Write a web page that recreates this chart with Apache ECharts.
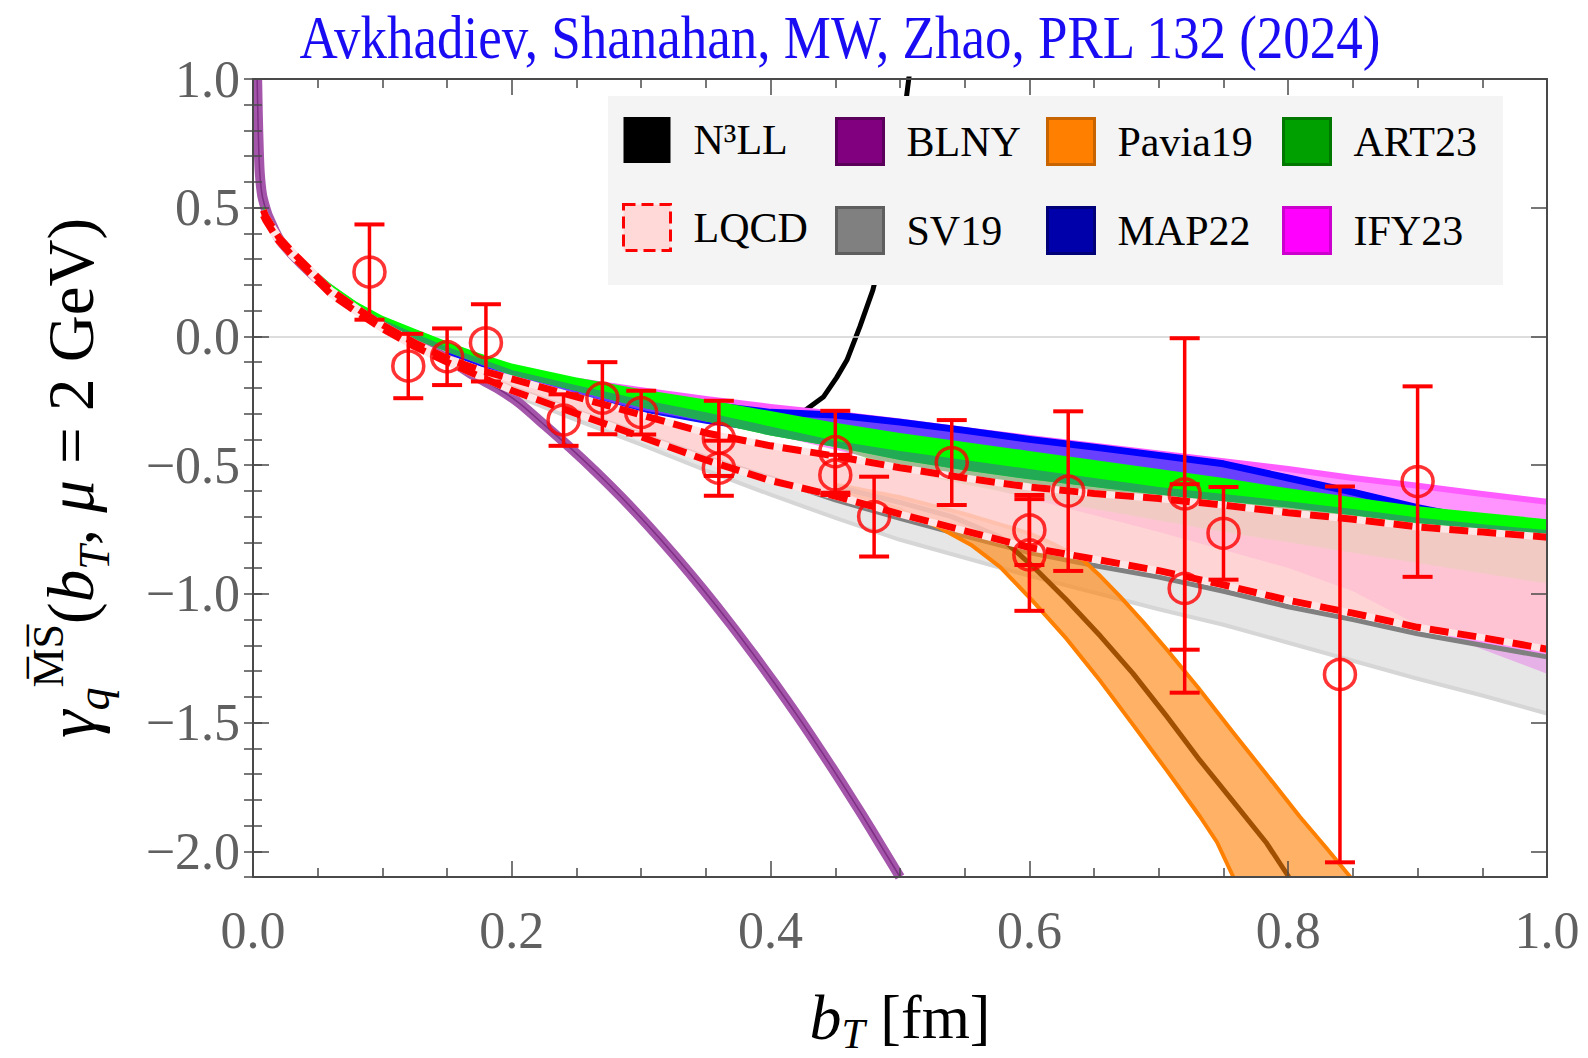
<!DOCTYPE html>
<html><head><meta charset="utf-8">
<script src="https://cdn.jsdelivr.net/npm/echarts@6/dist/echarts.min.js"></script>
<style>html,body{margin:0;padding:0;background:#fff}#c{width:1588px;height:1058px}</style>
</head><body><div id="c"></div>
<script>
// ---------- data ----------
const titleText = 'Avkhadiev, Shanahan, MW, Zhao, PRL 132 (2024)';
const yMajorTicks = [-2.0,-1.5,-1.0,-0.5,0.0,0.5,1.0];
const yMinorTicks = [-2.1,-2.0,-1.9,-1.8,-1.7,-1.6,-1.5,-1.4,-1.3,-1.2,-1.1,-1.0,-0.9,-0.8,-0.7,-0.6,-0.5,-0.4,-0.3,-0.2,-0.1,0.0,0.1,0.2,0.3,0.4,0.5,0.6,0.7,0.8,0.9,1.0];

const gridX     = [0.008,0.01,0.02,0.03,0.045,0.06,0.08,0.1,0.125,0.15,0.175,0.2,0.25,0.3,0.35,0.4,0.45,0.5,0.55,0.6,0.65,0.7,0.75,0.8,0.85,0.9,0.95,1.0];
const lqcdUpper = [0.49,0.465,0.385,0.33,0.255,0.18,0.11,0.045,-0.025,-0.085,-0.13,-0.165,-0.235,-0.305,-0.375,-0.425,-0.465,-0.51,-0.55,-0.585,-0.61,-0.63,-0.655,-0.685,-0.71,-0.74,-0.76,-0.78];
const lqcdLower = [0.47,0.45,0.37,0.315,0.24,0.165,0.095,0.03,-0.04,-0.1,-0.155,-0.21,-0.3,-0.39,-0.48,-0.56,-0.62,-0.69,-0.755,-0.82,-0.865,-0.91,-0.965,-1.025,-1.075,-1.13,-1.17,-1.215];
const artUpper  = [0.51,0.48,0.405,0.345,0.27,0.205,0.135,0.08,0.03,-0.02,-0.065,-0.105,-0.16,-0.205,-0.245,-0.29,-0.335,-0.375,-0.41,-0.445,-0.48,-0.515,-0.55,-0.59,-0.625,-0.66,-0.685,-0.71];
const artMid    = [0.495,0.467,0.393,0.333,0.258,0.19,0.122,0.066,0.012,-0.04,-0.085,-0.13,-0.19,-0.245,-0.295,-0.35,-0.405,-0.445,-0.48,-0.515,-0.55,-0.585,-0.612,-0.64,-0.67,-0.703,-0.73,-0.752];
const artLower  = [0.48,0.455,0.38,0.32,0.245,0.175,0.11,0.05,-0.01,-0.06,-0.105,-0.15,-0.2125,-0.275,-0.33,-0.385,-0.43,-0.48,-0.52,-0.555,-0.585,-0.615,-0.64,-0.665,-0.695,-0.725,-0.75,-0.775];
const svLine    = [0.475,0.455,0.375,0.32,0.245,0.17,0.1,0.035,-0.035,-0.095,-0.15,-0.2,-0.29,-0.38,-0.47,-0.55,-0.635,-0.707,-0.775,-0.84,-0.89,-0.935,-0.99,-1.05,-1.1,-1.155,-1.2,-1.245];
const svLower   = [0.47,0.45,0.37,0.315,0.24,0.165,0.095,0.03,-0.04,-0.1,-0.16,-0.225,-0.325,-0.42,-0.52,-0.615,-0.705,-0.79,-0.86,-0.93,-0.995,-1.06,-1.12,-1.19,-1.26,-1.33,-1.395,-1.465];

const artExtX     = [0.45,0.5,0.55,0.6,0.65,0.7,0.75,0.8,0.85,0.9,0.95,1.0];
const artExtUpper = [-0.43,-0.48,-0.52,-0.555,-0.585,-0.615,-0.64,-0.665,-0.695,-0.725,-0.75,-0.775];
const artExtLower = [-0.43,-0.52,-0.575,-0.625,-0.67,-0.715,-0.76,-0.8,-0.84,-0.88,-0.92,-0.96];

const ifyX     = [0.25,0.3,0.35,0.4,0.45,0.5,0.55,0.6,0.65,0.7,0.75,0.8,0.85,0.9,0.95,1.0];
const ifyUpper = [-0.172,-0.209,-0.243,-0.274,-0.3,-0.33,-0.363,-0.395,-0.425,-0.455,-0.485,-0.515,-0.55,-0.58,-0.612,-0.642];
const ifyLower = [-0.2,-0.26,-0.32,-0.38,-0.44,-0.5,-0.565,-0.63,-0.695,-0.76,-0.83,-0.9,-0.99,-1.12,-1.215,-1.31];

const mapX     = [0.15,0.2,0.25,0.3,0.35,0.4,0.45,0.5,0.55,0.6,0.65,0.7,0.75,0.8,0.85,0.9,0.95,1.0];
const mapUpper = [-0.045,-0.13,-0.18,-0.228,-0.265,-0.295,-0.305,-0.333,-0.365,-0.40,-0.43,-0.462,-0.495,-0.55,-0.605,-0.665,-0.715,-0.76];
const mapLower = [-0.065,-0.16,-0.225,-0.29,-0.335,-0.37,-0.39,-0.42,-0.45,-0.48,-0.51,-0.54,-0.57,-0.60,-0.635,-0.675,-0.72,-0.765];

const paviaUpX  = [0.45,0.5,0.55,0.6,0.62,0.6417,0.655,0.67,0.688,0.706,0.73,0.7576,0.783,0.809,0.83,0.848];
const paviaUp   = [-0.575,-0.625,-0.69,-0.765,-0.81,-0.87,-0.932,-1.01,-1.11,-1.215,-1.362,-1.54,-1.70,-1.866,-1.99,-2.1];
const paviaMidX = [0.45,0.5,0.54,0.577,0.603,0.6288,0.655,0.68,0.706,0.7318,0.758,0.7834,0.8005];
const paviaMid  = [-0.583,-0.645,-0.70,-0.778,-0.895,-1.024,-1.165,-1.309,-1.475,-1.647,-1.81,-1.969,-2.1];
const paviaLowX = [0.45,0.5,0.531,0.555,0.5773,0.603,0.6288,0.655,0.6803,0.706,0.7318,0.745,0.7576];
const paviaLow  = [-0.59,-0.672,-0.744,-0.81,-0.895,-1.03,-1.175,-1.34,-1.51,-1.685,-1.865,-1.965,-2.1];

const blnyX = [0.0032,0.0038,0.0045,0.0053,0.007,0.0095,0.0115,0.02,0.03,0.045,0.06,0.08,0.1,0.125,0.15,0.17,0.19,0.206,0.225,0.245,0.265,0.284,0.305,0.327,0.348,0.369,0.387,0.404,0.422,0.44,0.455,0.47,0.485,0.5];
const blnyY = [1.0,0.85,0.72,0.63,0.55,0.50,0.47,0.38,0.32,0.245,0.18,0.11,0.05,-0.02,-0.085,-0.15,-0.205,-0.26,-0.343,-0.432,-0.526,-0.621,-0.733,-0.858,-0.984,-1.117,-1.237,-1.354,-1.483,-1.618,-1.734,-1.853,-1.976,-2.1];

const n3llX = [0.008,0.01,0.02,0.03,0.045,0.06,0.08,0.1,0.125,0.15,0.175,0.2,0.25,0.3,0.35,0.4,0.415,0.427,0.441,0.451,0.459,0.469,0.479,0.488,0.496,0.503,0.508];
const n3llY = [0.49,0.46,0.385,0.325,0.25,0.185,0.115,0.06,0.01,-0.04,-0.085,-0.125,-0.18,-0.225,-0.265,-0.30,-0.305,-0.286,-0.234,-0.16,-0.092,0.038,0.18,0.36,0.58,0.85,1.05];

const ptX   = [0.09,0.12,0.15,0.18,0.24,0.27,0.30,0.36,0.36,0.45,0.45,0.48,0.54,0.60,0.60,0.63,0.72,0.72,0.75,0.84,0.90];
const ptY   = [0.25,-0.115,-0.079,-0.025,-0.325,-0.24,-0.296,-0.396,-0.512,-0.448,-0.538,-0.70,-0.49,-0.752,-0.849,-0.601,-0.612,-0.979,-0.765,-1.313,-0.564];
const ptErr = [0.185,0.125,0.11,0.15,0.10,0.14,0.085,0.146,0.107,0.159,0.078,0.155,0.165,0.136,0.217,0.31,0.605,0.405,0.18,0.73,0.37];

// ---------- helpers ----------
const F = 'Liberation Serif';
let zc = 2;
function pairs(xs, ys){ return xs.map((x,i)=>[x, ys[i]]); }
function band(name, xu, yu, xl, yl, fill){
  return {type:'custom', name, clip:true, silent:true, z:zc++, data:[[xu[0], yu[0]]],
    renderItem(params, api){
      const pts=[];
      for(let i=0;i<xu.length;i++) pts.push(api.coord([xu[i], yu[i]]));
      for(let i=xl.length-1;i>=0;i--) pts.push(api.coord([xl[i], yl[i]]));
      return {type:'polygon', shape:{points:pts}, style:{fill:fill}};
    }};
}
function line(name, xs, ys, color, width, extra){
  return Object.assign({type:'line', name, data:pairs(xs,ys), symbol:'none', silent:true, z:zc++,
    lineStyle:{color, width, cap:'butt', join:'round'}}, extra||{});
}

const series = [];
series.push(line('N³LL', n3llX, n3llY, '#000000', 5, {
  markLine:{silent:true, symbol:'none', label:{show:false}, lineStyle:{color:'#d2d2d2', width:1.5, type:'solid'}, data:[{yAxis:0}]}
}));
series.push(band('IFY23', ifyX, ifyUpper, ifyX, ifyLower, 'rgba(255,60,255,0.55)'));
series.push(line('IFY23 edge', ifyX, ifyUpper, '#ff5cff', 6));
series.push(band('SV19', gridX, svLine, gridX, svLower, 'rgba(205,205,205,0.5)'));
series.push(line('SV19 low', gridX, svLower, '#d6d6d6', 4));
series.push(line('SV19 line', gridX, svLine, '#808080', 5));
series.push(band('Pavia19', paviaUpX, paviaUp, paviaLowX, paviaLow, 'rgba(255,135,20,0.65)'));
series.push(line('Pavia19 up', paviaUpX, paviaUp, '#ff8000', 4));
series.push(line('Pavia19 low', paviaLowX, paviaLow, '#ff8000', 4));
series.push(line('Pavia19 mid', paviaMidX, paviaMid, '#a05000', 5));
series.push(line('BLNY', blnyX, blnyY, '#a456aa', 10, {smooth:0.25}));
series.push(line('BLNY mid', blnyX, blnyY, 'rgba(110,30,115,0.7)', 1.5, {smooth:0.25}));
series.push(band('MAP22', mapX, mapUpper, mapX, mapLower, '#6a40ff'));
series.push(line('MAP22 low', mapX, mapLower, '#1010ff', 2));
series.push(line('MAP22 edge', mapX, mapUpper, '#0000ff', 7));
series.push(band('ART23 ext', artExtX, artExtUpper, artExtX, artExtLower, 'rgba(90,220,60,0.55)'));
series.push(band('ART23', gridX, artUpper, gridX, artLower, '#00ff00'));
series.push(band('ART23 dark', gridX, artMid, gridX, artLower, '#22aa55'));
series.push(band('LQCD', gridX, lqcdUpper, gridX, lqcdLower, 'rgba(255,205,205,0.85)'));
series.push(line('LQCD up base', gridX, lqcdUpper, '#ffe6e6', 7));
series.push(line('LQCD low base', gridX, lqcdLower, '#ffe6e6', 7));
series.push(line('LQCD up', gridX, lqcdUpper, '#ff0000', 7, {lineStyle:{color:'#ff0000', width:7, type:[19,9], cap:'butt'}}));
series.push(line('LQCD low', gridX, lqcdLower, '#ff0000', 7, {lineStyle:{color:'#ff0000', width:7, type:[19,9], cap:'butt'}}));
series.push({type:'custom', name:'LQCD err', silent:true, z:zc++,
  data: ptX.map((x,i)=>[x, ptY[i], ptErr[i]]), encode:{x:0, y:1},
  renderItem(params, api){
    const x=api.value(0), y=api.value(1), e=api.value(2);
    const t=api.coord([x, y+e]), b=api.coord([x, y-e]); const hw=15;
    return {type:'group', children:[
      {type:'line', shape:{x1:t[0],y1:t[1],x2:b[0],y2:b[1]}, style:{stroke:'#ff0000', lineWidth:3.5}},
      {type:'line', shape:{x1:t[0]-hw,y1:t[1],x2:t[0]+hw,y2:t[1]}, style:{stroke:'#ff0000', lineWidth:4}},
      {type:'line', shape:{x1:b[0]-hw,y1:b[1],x2:b[0]+hw,y2:b[1]}, style:{stroke:'#ff0000', lineWidth:4}}
    ]};
  }});
series.push({type:'scatter', name:'LQCD pts', silent:true, z:zc++, data:pairs(ptX, ptY), symbol:'circle', symbolSize:[31,30],
  itemStyle:{color:'rgba(255,255,255,0)', borderColor:'#ff0000', borderWidth:3.5}});

const axisLineStyle = {color:'#4a4a4a', width:2};
const tickStyle = {color:'#4a4a4a', width:1.5};
const fmt = v => (v < -1e-9 ? '\u2212' : '') + Math.abs(v).toFixed(1);

const legendCommon = {orient:'vertical', top:117, itemWidth:47, itemHeight:46, itemGap:40, padding:0, selectedMode:false, icon:'rect', z:50,
  textStyle:{fontFamily:F, fontSize:42, color:'#000', padding:[0,0,0,18]}};

const option = {
  animation:false,
  backgroundColor:'#ffffff',
  grid:{left:253, right:41, top:79, bottom:181, containLabel:false, outerBoundsMode:'none'},
  xAxis:[
    {type:'value', min:0, max:1, interval:0.2, position:'bottom', z:60,
     axisLine:{show:true, onZero:false, lineStyle:axisLineStyle},
     axisTick:{show:true, inside:true, length:16, lineStyle:tickStyle},
     minorTick:{show:true, splitNumber:4, length:9, lineStyle:tickStyle},
     splitLine:{show:false},
     axisLabel:{fontFamily:F, fontSize:52, color:'#606060', margin:27, formatter:v=>v.toFixed(1)},
     name:'{i|b}{s|T}{p| [fm]}', nameLocation:'middle', nameGap:102,
     nameTextStyle:{fontFamily:F, color:'#000', rich:{
       i:{fontFamily:F, fontStyle:'italic', fontSize:64, lineHeight:76, color:'#000'},
       s:{fontFamily:F, fontStyle:'italic', fontSize:42, lineHeight:40, verticalAlign:'bottom', color:'#000'},
       p:{fontFamily:F, fontSize:62, lineHeight:76, color:'#000'}}}},
    {type:'value', min:0, max:1, interval:0.2, position:'top', z:60,
     axisLine:{show:true, onZero:false, lineStyle:axisLineStyle},
     axisTick:{show:true, inside:true, length:16, lineStyle:tickStyle},
     minorTick:{show:true, splitNumber:4, length:9, lineStyle:tickStyle},
     splitLine:{show:false}, axisLabel:{show:false}}
  ],
  yAxis:[
    {type:'value', min:-2.1, max:1.0, position:'left', z:60,
     axisLine:{show:true, onZero:false, lineStyle:axisLineStyle},
     axisTick:{show:true, inside:true, length:16, lineStyle:tickStyle, customValues:yMajorTicks},
     splitLine:{show:false},
     axisLabel:{fontFamily:F, fontSize:52, color:'#606060', margin:13, customValues:yMajorTicks, formatter:fmt},
     name:'{g|γ}{q|q}{ms|M\u0305S\u0305}{p|(}{i|b}{s|T}{p|, }{i|μ}{p| = 2 GeV)}',
     nameLocation:'middle', nameRotate:90, nameGap:137,
     nameTextStyle:{fontFamily:F, color:'#000', rich:{
       g:{fontFamily:F, fontStyle:'italic', fontSize:70, lineHeight:90, color:'#000'},
       q:{fontFamily:F, fontStyle:'italic', fontSize:46, lineHeight:46, verticalAlign:'bottom', color:'#000'},
       ms:{fontFamily:F, fontSize:44, lineHeight:46, verticalAlign:'top', color:'#000'},
       i:{fontFamily:F, fontStyle:'italic', fontSize:65, lineHeight:90, color:'#000'},
       s:{fontFamily:F, fontStyle:'italic', fontSize:44, lineHeight:44, verticalAlign:'bottom', color:'#000'},
       p:{fontFamily:F, fontSize:65, lineHeight:90, color:'#000'}}}},
    {type:'value', min:-2.1, max:1.0, position:'left', z:60,
     axisLine:{show:false}, splitLine:{show:false}, axisLabel:{show:false},
     axisTick:{show:true, inside:true, length:9, lineStyle:tickStyle, customValues:yMinorTicks}},
    {type:'value', min:-2.1, max:1.0, position:'right', z:60,
     axisLine:{show:true, onZero:false, lineStyle:axisLineStyle}, splitLine:{show:false}, axisLabel:{show:false},
     axisTick:{show:true, inside:true, length:16, lineStyle:tickStyle, customValues:yMajorTicks}},
    {type:'value', min:-2.1, max:1.0, position:'right', z:60,
     axisLine:{show:false}, splitLine:{show:false}, axisLabel:{show:false},
     axisTick:{show:true, inside:true, length:9, lineStyle:tickStyle, customValues:yMinorTicks}}
  ],
  legend:[
    Object.assign({}, legendCommon, {left:622, data:[
      {name:'N³LL', icon:'rect', itemStyle:{color:'#000000', borderWidth:0}},
      {name:'LQCD', icon:'rect', itemStyle:{color:'#ffd8d8', borderColor:'#ff0000', borderWidth:3, borderType:'dashed'}}]}),
    Object.assign({}, legendCommon, {left:835, data:[
      {name:'BLNY', icon:'rect', itemStyle:{color:'#800080', borderColor:'#5a005a', borderWidth:3}},
      {name:'SV19', icon:'rect', itemStyle:{color:'#808080', borderColor:'#5e5e5e', borderWidth:3}}]}),
    Object.assign({}, legendCommon, {left:1046, data:[
      {name:'Pavia19', icon:'rect', itemStyle:{color:'#ff8000', borderColor:'#c86400', borderWidth:3}},
      {name:'MAP22', icon:'rect', itemStyle:{color:'#0000aa', borderColor:'#000078', borderWidth:3}}]}),
    Object.assign({}, legendCommon, {left:1282, data:[
      {name:'ART23', icon:'rect', itemStyle:{color:'#00a000', borderColor:'#007800', borderWidth:3}},
      {name:'IFY23', icon:'rect', itemStyle:{color:'#ff00ff', borderColor:'#cc00cc', borderWidth:3}}]})
  ],
  graphic:[
    {type:'rect', z:45, silent:true, shape:{x:608, y:96, width:895, height:189}, style:{fill:'#f4f4f4'}},
    {type:'text', z:50, silent:true, x:840, y:37, scaleY:1.15, style:{text:titleText, fontFamily:F, fontSize:53, fill:'#1a0cf2', align:'center', verticalAlign:'middle'}}
  ],
  series
};
const chart = echarts.init(document.getElementById('c'), null, {renderer:'svg', width:1588, height:1058});
chart.setOption(option);
</script>
</body></html>
